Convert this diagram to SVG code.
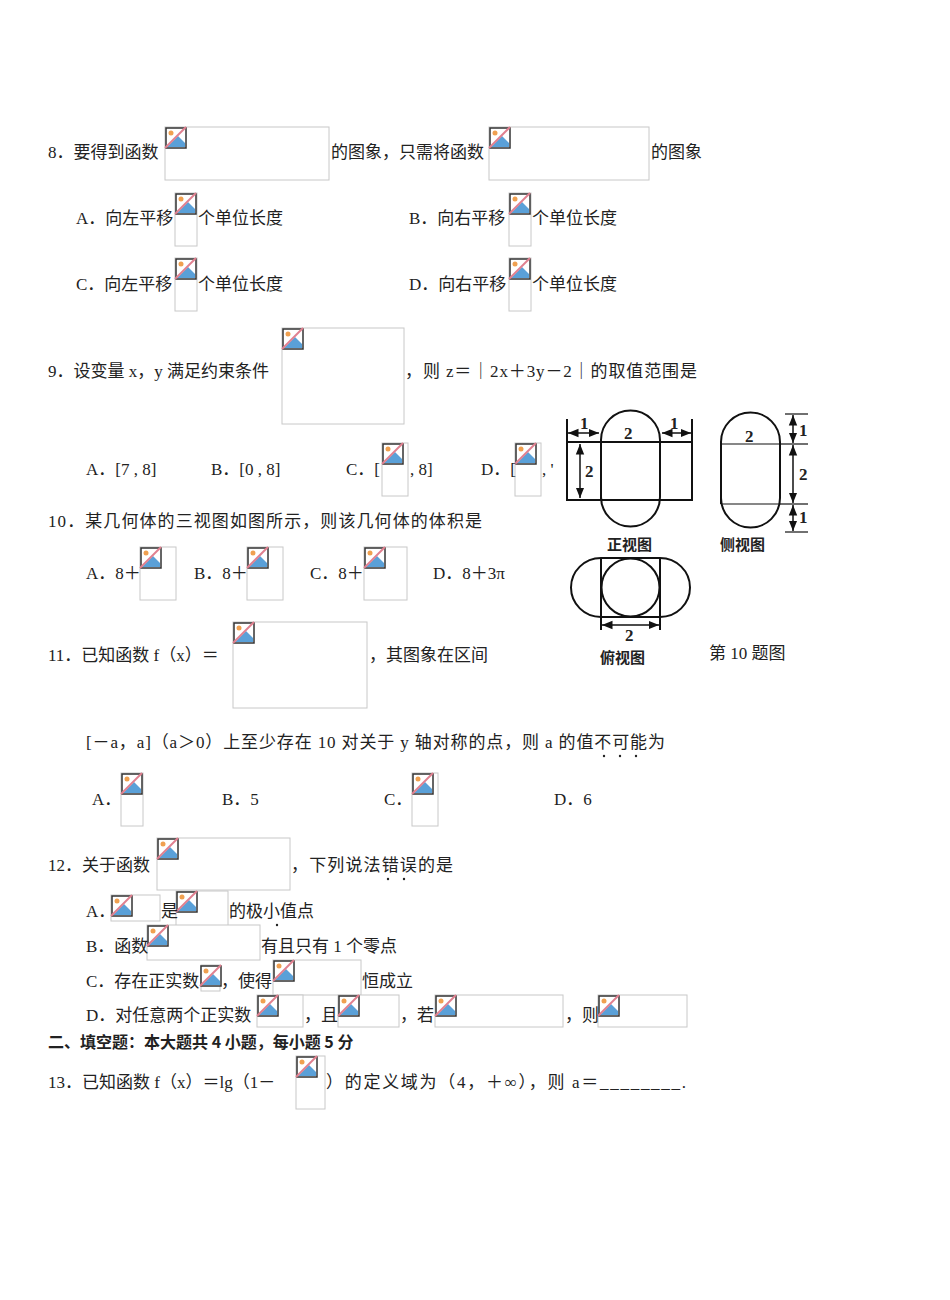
<svg xmlns="http://www.w3.org/2000/svg" xmlns:xlink="http://www.w3.org/1999/xlink" width="950" height="1300" viewBox="0 0 950 1300">
<style>
text{font-family:"Liberation Serif","Noto Sans CJK SC",serif;font-size:17px;fill:#222}
.b{font-weight:bold;font-family:"Noto Sans CJK SC",sans-serif;font-size:16px}
.ph{fill:#fff;stroke:#c8c8c8;stroke-width:1}
.f{fill:none;stroke:#111;stroke-width:2}
.fl{font-family:"Liberation Serif",serif;font-weight:bold;font-size:17px}
.fc{font-family:"Noto Sans CJK SC",sans-serif;font-weight:bold;font-size:15px}
</style>
<defs>
<g id="ic">
<rect x="1" y="1" width="20" height="20" fill="#fff" stroke="#333" stroke-width="1.5"/>
<path d="M2 20 L13 9 L20 16 L20 20 Z" fill="#5aa0d8"/>
<circle cx="6" cy="6" r="2.5" fill="#f0a050"/>
<line x1="0" y1="21" x2="21" y2="0" stroke="#e08090" stroke-width="2"/>
</g>
<marker id="ar" viewBox="0 0 10 10" refX="10" refY="5" markerWidth="7" markerHeight="7" orient="auto-start-reverse"><path d="M0 1 L10 5 L0 9 Z" fill="#111"/></marker>
</defs>
<rect width="950" height="1300" fill="#fff"/>
<g id="placeholders">
<g><rect class="ph" x="165" y="127" width="164" height="53"/><use href="#ic" x="165" y="127"/></g>
<g><rect class="ph" x="489" y="127" width="160" height="53"/><use href="#ic" x="489" y="127"/></g>
<g><rect class="ph" x="175" y="193" width="22" height="53"/><use href="#ic" x="175" y="193"/></g>
<g><rect class="ph" x="509" y="193" width="22" height="53"/><use href="#ic" x="509" y="193"/></g>
<g><rect class="ph" x="175" y="258" width="22" height="53"/><use href="#ic" x="175" y="258"/></g>
<g><rect class="ph" x="509" y="258" width="22" height="53"/><use href="#ic" x="509" y="258"/></g>
<g><rect class="ph" x="282" y="328" width="122" height="96"/><use href="#ic" x="282" y="328"/></g>
<g><rect class="ph" x="382" y="443" width="26" height="53"/><use href="#ic" x="382" y="443"/></g>
<g><rect class="ph" x="515" y="443" width="26" height="53"/><use href="#ic" x="515" y="443"/></g>
<g><rect class="ph" x="140" y="547" width="36" height="53"/><use href="#ic" x="140" y="547"/></g>
<g><rect class="ph" x="247" y="547" width="36" height="53"/><use href="#ic" x="247" y="547"/></g>
<g><rect class="ph" x="364" y="547" width="43" height="53"/><use href="#ic" x="364" y="547"/></g>
<g><rect class="ph" x="233" y="622" width="134" height="86"/><use href="#ic" x="233" y="622"/></g>
<g><rect class="ph" x="121" y="773" width="22" height="53"/><use href="#ic" x="121" y="773"/></g>
<g><rect class="ph" x="412" y="773" width="26" height="53"/><use href="#ic" x="412" y="773"/></g>
<g><rect class="ph" x="157" y="838" width="133" height="52"/><use href="#ic" x="157" y="838"/></g>
<g><rect class="ph" x="111" y="895" width="49" height="26"/><use href="#ic" x="111" y="895"/></g>
<g><rect class="ph" x="176" y="891" width="52" height="35"/><use href="#ic" x="176" y="891"/></g>
<g><rect class="ph" x="147" y="925" width="113" height="35"/><use href="#ic" x="147" y="925"/></g>
<g><rect class="ph" x="201" y="965" width="19" height="26"/><use href="#ic" x="200" y="965"/></g>
<g><rect class="ph" x="273" y="960" width="88" height="35"/><use href="#ic" x="273" y="960"/></g>
<g><rect class="ph" x="257" y="995" width="46" height="32"/><use href="#ic" x="257" y="995"/></g>
<g><rect class="ph" x="338" y="995" width="61" height="32"/><use href="#ic" x="338" y="995"/></g>
<g><rect class="ph" x="435" y="995" width="128" height="32"/><use href="#ic" x="435" y="995"/></g>
<g><rect class="ph" x="598" y="995" width="89" height="32"/><use href="#ic" x="598" y="995"/></g>
<g><rect class="ph" x="296" y="1056" width="29" height="53"/><use href="#ic" x="296" y="1056"/></g>
</g>
<g id="text">
<text x="48" y="158">8．要得到函数</text><text x="331" y="158">的图象，只需将函数</text><text x="651" y="158">的图象</text>
<text x="76" y="224">A．向左平移</text><text x="198" y="224">个单位长度</text>
<text x="409" y="224">B．向右平移</text><text x="532" y="224">个单位长度</text>
<text x="76" y="290">C．向左平移</text><text x="198" y="290">个单位长度</text>
<text x="409" y="290">D．向右平移</text><text x="532" y="290">个单位长度</text>
<text x="48" y="377">9．设变量 x，y 满足约束条件</text><text x="405" y="377" textLength="292">，则 z＝｜2x＋3y－2｜的取值范围是</text>
<text x="86" y="475">A．[7 , 8]</text><text x="211" y="475">B．[0 , 8]</text><text x="346" y="475">C．[</text><text x="410" y="475">, 8]</text><text x="481" y="475">D．[</text><text x="542" y="475">, '</text>
<text x="48" y="527" textLength="434">10．某几何体的三视图如图所示，则该几何体的体积是</text>
<text x="86" y="579">A．8＋</text><text x="194" y="579">B．8＋</text><text x="310" y="579">C．8＋</text><text x="433" y="579">D．8＋3π</text>
<text x="48" y="661">11．已知函数 f（x）＝</text><text x="369" y="661">，其图象在区间</text>
<text x="86" y="748" textLength="579">[－a，a]（a＞0）上至少存在 10 对关于 y 轴对称的点，则 a 的值不可能为</text>
<text x="92" y="805">A．</text><text x="222" y="805">B．5</text><text x="384" y="805">C．</text><text x="554" y="805">D．6</text>
<text x="48" y="871">12．关于函数</text><text x="291" y="871" textLength="162">，下列说法错误的是</text>
<text x="86" y="917">A．</text><text x="161" y="917">是</text><text x="229" y="917">的极小值点</text>
<text x="86" y="952">B．函数</text><text x="261" y="952">有且只有 1 个零点</text>
<text x="86" y="987">C．存在正实数</text><text x="221" y="987">，使得</text><text x="362" y="987">恒成立</text>
<text x="86" y="1021">D．对任意两个正实数</text><text x="304" y="1021">，且</text><text x="400" y="1021">，若</text><text x="565" y="1021">，则</text>
<text class="b" x="48" y="1048">二、填空题：本大题共 4 小题，每小题 5 分</text>
<text x="48" y="1088">13．已知函数 f（x）＝lg（1－</text><text x="326" y="1088" textLength="360">）的定义域为（4，＋∞），则 a＝________.</text>
<g fill="#222"><circle cx="604" cy="756" r="1.2"/><circle cx="620" cy="756" r="1.2"/><circle cx="636" cy="756" r="1.2"/><circle cx="388" cy="879" r="1.2"/><circle cx="404" cy="879" r="1.2"/><circle cx="277" cy="925" r="1.2"/></g>
</g>
<g id="figure">
<rect class="f" x="567" y="442" width="125" height="58"/>
<path class="f" d="M601 500 V440 A29.5 29.5 0 0 1 660 440 V497 A29.5 29.5 0 0 1 601 497"/>
<line class="f" x1="567" y1="419" x2="567" y2="442" stroke-width="1.2"/><line class="f" x1="692" y1="419" x2="692" y2="442" stroke-width="1.2"/>
<line stroke="#111" stroke-width="1.5" x1="568" y1="433" x2="599" y2="433" marker-start="url(#ar)" marker-end="url(#ar)"/>
<line stroke="#111" stroke-width="1.5" x1="662" y1="433" x2="691" y2="433" marker-start="url(#ar)" marker-end="url(#ar)"/>
<line stroke="#111" stroke-width="1.5" x1="580" y1="444" x2="580" y2="498" marker-start="url(#ar)" marker-end="url(#ar)"/>
<text class="fl" x="580" y="429">1</text><text class="fl" x="624" y="439">2</text><text class="fl" x="670" y="429">1</text><text class="fl" x="585" y="477">2</text>
<path class="f" d="M721 504 V442 A29.5 29.5 0 0 1 780 442 V498 A29.5 29.5 0 0 1 721 498"/>
<line stroke="#111" stroke-width="1.2" x1="721" y1="444" x2="780" y2="444"/><line stroke="#111" stroke-width="1.2" x1="721" y1="504" x2="780" y2="504"/>
<g stroke="#111" stroke-width="1.2"><line x1="785" y1="414" x2="808" y2="414"/><line x1="780" y1="444" x2="808" y2="444"/><line x1="780" y1="504" x2="808" y2="504"/><line x1="785" y1="532" x2="808" y2="532"/></g>
<line stroke="#111" stroke-width="1.5" x1="793" y1="415" x2="793" y2="443" marker-start="url(#ar)" marker-end="url(#ar)"/>
<line stroke="#111" stroke-width="1.5" x1="793" y1="445" x2="793" y2="503" marker-start="url(#ar)" marker-end="url(#ar)"/>
<line stroke="#111" stroke-width="1.5" x1="793" y1="505" x2="793" y2="531" marker-start="url(#ar)" marker-end="url(#ar)"/>
<text class="fl" x="745" y="442">2</text><text class="fl" x="799" y="436">1</text><text class="fl" x="799" y="480">2</text><text class="fl" x="799" y="523">1</text>
<path class="f" d="M601 558 H660 A30 29.5 0 0 1 660 617 H601 A30 29.5 0 0 1 601 558 Z"/>
<line class="f" x1="601" y1="558" x2="601" y2="630" stroke-width="1.5"/><line class="f" x1="660" y1="558" x2="660" y2="630" stroke-width="1.5"/>
<circle class="f" cx="630.5" cy="587.5" r="29"/>
<line stroke="#111" stroke-width="1.5" x1="602" y1="625" x2="659" y2="625" marker-start="url(#ar)" marker-end="url(#ar)"/>
<text class="fl" x="625" y="641">2</text>
<text class="fc" x="607" y="550">正视图</text><text class="fc" x="720" y="550">侧视图</text><text class="fc" x="600" y="663">俯视图</text>
<text x="709" y="659">第 10 题图</text>
</g>
</svg>
